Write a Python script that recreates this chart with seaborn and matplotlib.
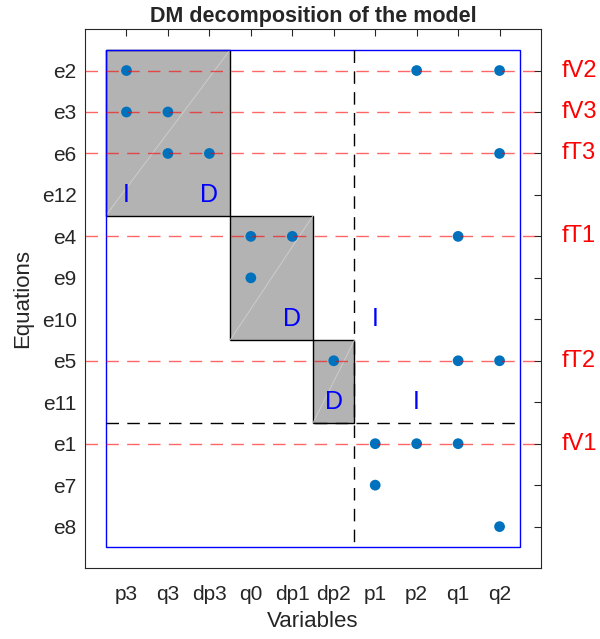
import numpy as np
import pandas as pd
import matplotlib
matplotlib.use("Agg")
import matplotlib.pyplot as plt
import seaborn as sns
from matplotlib.patches import Rectangle

variables = ['p3', 'q3', 'dp3', 'q0', 'dp1', 'dp2', 'p1', 'p2', 'q1', 'q2']
equations = ['e2', 'e3', 'e6', 'e12', 'e4', 'e9', 'e10', 'e5', 'e11', 'e1', 'e7', 'e8']

# incidence: equation -> variables it contains
eq_vars = {
    'e2': ['p3', 'p2', 'q2'],
    'e3': ['p3', 'q3'],
    'e6': ['q3', 'dp3', 'q2'],
    'e12': [],
    'e4': ['q0', 'dp1', 'q1'],
    'e9': ['q0'],
    'e10': [],
    'e5': ['dp2', 'q1', 'q2'],
    'e11': [],
    'e1': ['p1', 'p2', 'q1'],
    'e7': ['p1'],
    'e8': ['q2'],
}

# fault signatures marked on the right
fault_eqs = ['e2', 'e3', 'e6', 'e4', 'e5', 'e1']
fault_names = ['fV2', 'fV3', 'fT3', 'fT1', 'fT2', 'fV1']

# diagonal blocks: (first var, last var, first eq, last eq)
blocks = [('p3', 'dp3', 'e2', 'e12'), ('q0', 'dp1', 'e4', 'e10'), ('dp2', 'dp2', 'e5', 'e11')]

# block labels: (text, variable, equation)
block_labels = [('I', 'p3', 'e12'), ('D', 'dp3', 'e12'), ('D', 'dp1', 'e10'),
                ('D', 'dp2', 'e11'), ('I', 'p1', 'e10'), ('I', 'p2', 'e11')]

xpos = {v: i + 1 for i, v in enumerate(variables)}
ypos = {e: i + 1 for i, e in enumerate(equations)}

rows = []
for e, vs in eq_vars.items():
    for v in vs:
        rows.append({'x': xpos[v], 'y': ypos[e]})
df = pd.DataFrame(rows)

sns.set_style("white")
plt.rcParams['font.family'] = ['Liberation Sans', 'DejaVu Sans']

fig = plt.figure(figsize=(6, 6.39), dpi=100)
ax = fig.add_axes([0.1417, 0.111, 0.76, 0.8435])

nv, ne = len(variables), len(equations)

for v0, v1, e0, e1 in blocks:
    x0, x1 = xpos[v0] - 0.5, xpos[v1] + 0.5
    y0, y1 = ypos[e0] - 0.5, ypos[e1] + 0.5
    ax.add_patch(Rectangle((x0, y0), x1 - x0, y1 - y0, facecolor='#b3b3b3',
                           edgecolor='black', lw=1, zorder=1))
    ax.plot([x0, x1], [y1, y0], color='#d0d0d0', lw=0.6, zorder=1.5)

ax.add_patch(Rectangle((0.5, 0.5), nv, ne, fill=False, edgecolor='blue',
                       lw=1, zorder=2))

sns.scatterplot(data=df, x='x', y='y', ax=ax, color='#0072BD', s=60,
                edgecolor='none', zorder=3)

for e, name in zip(fault_eqs, fault_names):
    ax.plot([0, nv + 1], [ypos[e], ypos[e]], color='red', lw=1, alpha=0.6,
            dashes=(9, 6), zorder=4)
    ax.text(nv + 1.5, ypos[e], name, color='red', fontsize=17, va='center',
            ha='left', clip_on=False)

ax.plot([6.5, 6.5], [0.5, ne + 0.5], color='black', lw=1, dashes=(9, 6), zorder=2.5)
ax.plot([0.5, nv + 0.5], [9.5, 9.5], color='black', lw=1, dashes=(9, 6), zorder=2.5)

for t, v, e in block_labels:
    ax.text(xpos[v], ypos[e], t, color='blue', fontsize=18, ha='center',
            va='center', zorder=5)

ax.set_xlim(0, nv + 1)
ax.set_ylim(ne + 1, 0)
ax.set_xticks(range(1, nv + 1))
ax.set_xticklabels(variables)
ax.set_yticks(range(1, ne + 1))
ax.set_yticklabels(equations)
ax.tick_params(direction='in', length=5, width=0.8, colors='#262626',
               labelsize=15, top=True, right=True)
ax.tick_params(axis='x', pad=12)
ax.tick_params(axis='y', pad=6)
for s in ax.spines.values():
    s.set_color('#262626')
    s.set_linewidth(0.8)
    s.set_visible(True)

ax.set_xlabel('Variables', fontsize=16, color='#262626', labelpad=5)
ax.set_ylabel('Equations', fontsize=16, color='#262626', labelpad=6)
ax.set_title('DM decomposition of the model', fontsize=15.5, fontweight='bold', pad=5)

fig.savefig('out.png', dpi=100)
